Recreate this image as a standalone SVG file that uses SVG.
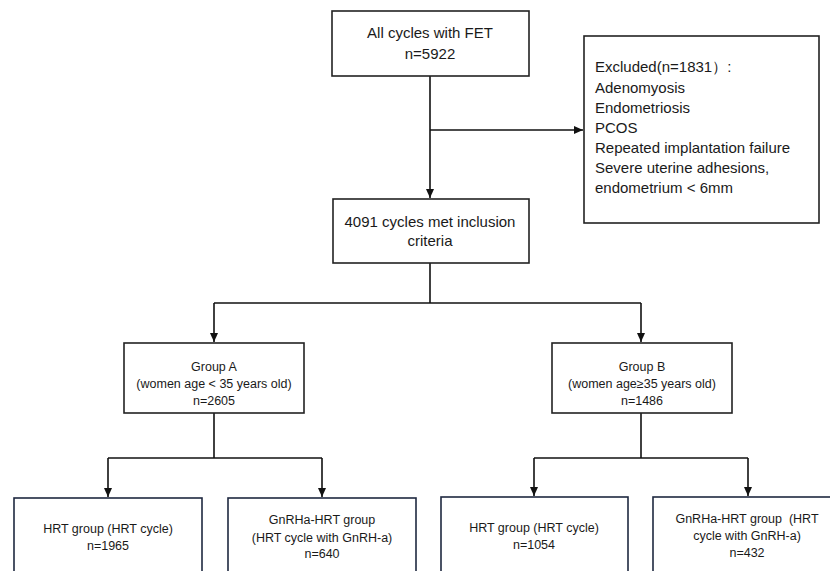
<svg xmlns="http://www.w3.org/2000/svg" width="830" height="571" viewBox="0 0 830 571">
<defs>
<marker id="ah" markerWidth="10" markerHeight="10" refX="9" refY="5" orient="auto" markerUnits="userSpaceOnUse">
<path d="M0,1 L9,5 L0,9 Z" fill="#111"/>
</marker>
<style>
.box{fill:#fff;stroke:#222;stroke-width:1.6}
.nbox{fill:#fff;stroke:#1f2840;stroke-width:1.6}
.t{font-family:"Liberation Sans",Arial,sans-serif;fill:#1a1a1a;text-anchor:middle}
.l{font-family:"Liberation Sans",Arial,sans-serif;fill:#1a1a1a;font-size:15px}
.big{font-size:15px}
.sm{font-size:12.5px}
.c{fill:none;stroke:#111;stroke-width:1.6}
</style>
</defs>
<rect width="830" height="571" fill="#fff"/>
<g id="connectors">
<path class="c" d="M430,76 V198" marker-end="url(#ah)"/>
<path class="c" d="M430,130 H583" marker-end="url(#ah)"/>
<path class="c" d="M430,263 V303"/>
<path class="c" d="M214,303 H641"/>
<path class="c" d="M214,303 V342" marker-end="url(#ah)"/>
<path class="c" d="M641,303 V342" marker-end="url(#ah)"/>
<path class="c" d="M214,413 V458"/>
<path class="c" d="M108,458 H322"/>
<path class="c" d="M108,458 V497" marker-end="url(#ah)"/>
<path class="c" d="M322,458 V497" marker-end="url(#ah)"/>
<path class="c" d="M641,413 V458"/>
<path class="c" d="M534,458 H748"/>
<path class="c" d="M534,458 V496" marker-end="url(#ah)"/>
<path class="c" d="M748,458 V496" marker-end="url(#ah)"/>
</g>
<g id="all">
<rect class="box" x="332" y="11" width="197" height="65"/>
<text class="t big" x="430" y="38">All cycles with FET</text>
<text class="t big" x="430" y="59">n=5922</text>
</g>
<g id="excluded">
<rect class="box" x="584" y="36" width="235" height="187"/>
<text class="l" x="595" y="72">Excluded(n=1831）:</text>
<text class="l" x="595" y="93">Adenomyosis</text>
<text class="l" x="595" y="113">Endometriosis</text>
<text class="l" x="595" y="133">PCOS</text>
<text class="l" x="595" y="153">Repeated implantation failure</text>
<text class="l" x="595" y="173">Severe uterine adhesions,</text>
<text class="l" x="595" y="193">endometrium &lt; 6mm</text>
</g>
<g id="included">
<rect class="box" x="333" y="199" width="196" height="64"/>
<text class="t big" x="430" y="227">4091 cycles met inclusion</text>
<text class="t big" x="430" y="246">criteria</text>
</g>
<g id="groupA">
<rect class="box" x="124" y="343" width="180" height="70"/>
<text class="t sm" x="214" y="371">Group A</text>
<text class="t sm" x="214" y="388">(women age &lt; 35 years old)</text>
<text class="t sm" x="214" y="405">n=2605</text>
</g>
<g id="groupB">
<rect class="box" x="552" y="343" width="180" height="70"/>
<text class="t sm" x="642" y="371">Group B</text>
<text class="t sm" x="642" y="388">(women age≥35 years old)</text>
<text class="t sm" x="642" y="405">n=1486</text>
</g>
<g id="hrtA">
<rect class="nbox" x="14" y="498" width="188" height="100"/>
<text class="t sm" x="108" y="533">HRT group (HRT cycle)</text>
<text class="t sm" x="108" y="550">n=1965</text>
</g>
<g id="gnrhA">
<rect class="nbox" x="228" y="498" width="188" height="100"/>
<text class="t sm" x="322" y="524">GnRHa-HRT group</text>
<text class="t sm" x="322" y="542">(HRT cycle with GnRH-a)</text>
<text class="t sm" x="322" y="558">n=640</text>
</g>
<g id="hrtB">
<rect class="nbox" x="441" y="497" width="187" height="100"/>
<text class="t sm" x="534" y="532">HRT group (HRT cycle)</text>
<text class="t sm" x="534" y="549">n=1054</text>
</g>
<g id="gnrhB">
<rect class="nbox" x="653" y="497" width="188" height="100"/>
<text class="t sm" x="747" y="523" xml:space="preserve">GnRHa-HRT group  (HRT</text>
<text class="t sm" x="747" y="540">cycle with GnRH-a)</text>
<text class="t sm" x="747" y="557">n=432</text>
</g>
</svg>
